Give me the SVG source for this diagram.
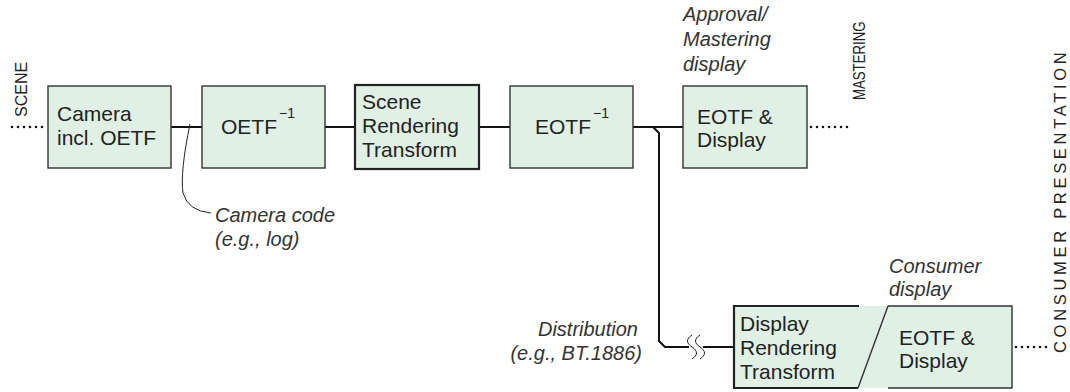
<svg xmlns="http://www.w3.org/2000/svg" width="1070" height="392" viewBox="0 0 1070 392">
<style>
.box{fill:#e1f0e5;stroke:#333;stroke-width:1.4}
.thick{fill:#e1f0e5;stroke:#222;stroke-width:2.2}
.t{font-family:"Liberation Sans",Arial,sans-serif;font-size:21px;fill:#222}
.sup{font-family:"Liberation Sans",Arial,sans-serif;font-size:14px;fill:#222}
.it{font-family:"Liberation Sans",Arial,sans-serif;font-size:20px;font-style:italic;fill:#333}
.v{font-family:"Liberation Sans",Arial,sans-serif;font-size:16.5px;fill:#222}
.ln{fill:none;stroke:#111;stroke-width:2}
.dot{fill:none;stroke:#111;stroke-width:2.6;stroke-linecap:round;stroke-dasharray:0 6}
.lead{fill:none;stroke:#222;stroke-width:1}
</style>
<g id="connectors">
<path class="ln" d="M171,127 H202 M325,127 H355 M479,127 H510 M633,127 H683"/>
<path class="ln" d="M653,127 L659,133 V341 L665,347 H689 M703,347 H734"/>
<path class="lead" stroke-width="1.5" d="M692,335 c-6,4 -6,8 0,12 c6,4 6,8 0,12 M700,335 c-6,4 -6,8 0,12 c6,4 6,8 0,12"/>
<path class="dot" d="M12,127 H46 M811,127 H852 M1016,347 H1050"/>
<path class="lead" d="M190,124 Q180,172 183,193 Q188,211 211,213"/>
</g>
<g id="scene-label"><text class="v" transform="translate(27,117) rotate(-90) scale(0.97,1)">SCENE</text></g>
<g id="camera">
<rect class="box" x="48" y="86" width="123" height="82"/>
<text class="t" x="57" y="121">Camera</text>
<text class="t" x="57" y="145">incl. OETF</text>
</g>
<g id="oetf-inv">
<rect class="box" x="202" y="86" width="123" height="82"/>
<text class="t" x="221" y="134">OETF<tspan class="sup" dx="2" dy="-16">−1</tspan></text>
</g>
<g id="srt">
<rect class="thick" x="355" y="85" width="124" height="84"/>
<text class="t" x="362" y="109">Scene</text>
<text class="t" x="362" y="133">Rendering</text>
<text class="t" x="362" y="157">Transform</text>
</g>
<g id="eotf-inv">
<rect class="box" x="510" y="86" width="123" height="82"/>
<text class="t" x="535" y="134">EOTF<tspan class="sup" dx="2" dy="-16">−1</tspan></text>
</g>
<g id="mastering-display">
<text class="it" x="683" y="21">Approval/</text>
<text class="it" x="683" y="46">Mastering</text>
<text class="it" x="683" y="71">display</text>
<rect class="box" x="683" y="86" width="124" height="82"/>
<text class="t" x="697" y="124">EOTF &amp;</text>
<text class="t" x="697" y="147">Display</text>
</g>
<g id="mastering-label"><text class="v" transform="translate(865,100) rotate(-90) scale(0.8,1)">MASTERING</text></g>
<g id="camera-code">
<text class="it" x="215" y="222">Camera code</text>
<text class="it" x="215" y="246">(e.g., log)</text>
</g>
<g id="distribution">
<text class="it" x="638" y="336" text-anchor="end">Distribution</text>
<text class="it" x="642" y="360" text-anchor="end">(e.g., BT.1886)</text>
</g>
<g id="consumer-display">
<text class="it" x="889" y="273">Consumer</text>
<text class="it" x="889" y="296">display</text>
<rect x="734" y="306" width="278" height="82" fill="#e1f0e5"/>
<path fill="none" stroke="#222" stroke-width="2.2" d="M859,306 H734 V388 H858"/>
<path fill="none" stroke="#333" stroke-width="1.4" d="M888,306 L858,388 M888,306 H1012 V388 H888"/>
<text class="t" x="740" y="331">Display</text>
<text class="t" x="740" y="355">Rendering</text>
<text class="t" x="740" y="379">Transform</text>
<text class="t" x="899" y="345">EOTF &amp;</text>
<text class="t" x="899" y="368">Display</text>
</g>
<g id="consumer-label"><text class="v" style="letter-spacing:3.7px" transform="translate(1066,353) rotate(-90)">CONSUMER PRESENTATION</text></g>
</svg>
